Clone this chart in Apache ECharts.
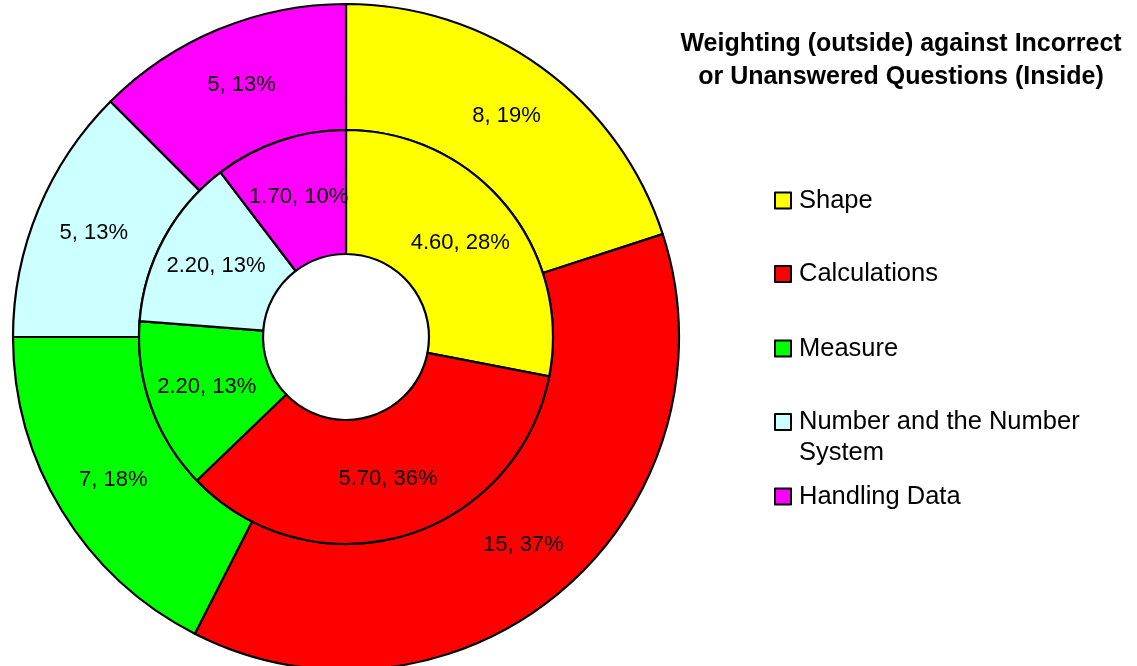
<!DOCTYPE html>
<html>
<head>
<meta charset="utf-8">
<script src="https://cdn.jsdelivr.net/npm/echarts@6/dist/echarts.min.js"></script>
<style>html,body{margin:0;padding:0;background:#fff}#chart{width:1137px;height:666px}</style>
</head>
<body>
<div id="chart"></div>
<script>
var categories = ['Shape', 'Calculations', 'Measure', 'Number and the Number System', 'Handling Data'];
var colors = ['#FFFF00', '#FF0000', '#00FF00', '#CCFFFF', '#FF00FF'];
var outerValues = [8, 15, 7, 5, 5];
var outerPercentLabels = [19, 37, 18, 13, 13];
var innerValues = [4.60, 5.70, 2.20, 2.20, 1.70];
var innerPercentLabels = [28, 36, 13, 13, 10];
var titleText = 'Weighting (outside) against Incorrect\nor Unanswered Questions (Inside)';

var FONT = '"Liberation Sans", Arial, sans-serif';

function buildData(values) {
  return categories.map(function (c, i) {
    return { name: c, value: values[i], itemStyle: { color: colors[i] } };
  });
}

var legendTops = [185, 258.5, 333, 375.5, 481];
var legends = categories.map(function (c, i) {
  return {
    data: [c],
    orient: 'vertical',
    left: 774,
    top: legendTops[i],
    padding: 0,
    icon: 'rect',
    itemWidth: 16,
    itemHeight: 16,
    selectedMode: false,
    itemStyle: { borderColor: '#000', borderWidth: 2 },
    formatter: function (name) {
      if (name === 'Number and the Number System') return '\nNumber and the Number\nSystem';
      return name;
    },
    textStyle: { fontFamily: FONT, fontSize: 25.5, color: '#000', lineHeight: 31, padding: [0, 0, 0, 3] }
  };
});

var common = {
  type: 'pie',
  center: [346, 337],
  startAngle: 90,
  clockwise: true,
  avoidLabelOverlap: false,
  labelLine: { show: false },
  itemStyle: { borderColor: '#000', borderWidth: 2.2 },
  emphasis: { disabled: true },
  labelLayout: { hideOverlap: false }
};

var option = {
  animation: false,
  backgroundColor: '#fff',
  title: {
    text: titleText,
    left: 901,
    top: 28,
    padding: 0,
    textAlign: 'center',
    textStyle: { fontFamily: FONT, fontSize: 25, fontWeight: 'bold', color: '#000', lineHeight: 33 }
  },
  legend: legends,
  series: [
    Object.assign({}, common, {
      name: 'Weighting',
      radius: [207, 333],
      data: buildData(outerValues),
      label: {
        show: true, position: 'inside', color: '#000', fontFamily: FONT, fontSize: 22,
        formatter: function (p) { return p.value + ', ' + outerPercentLabels[p.dataIndex] + '%'; }
      }
    }),
    Object.assign({}, common, {
      name: 'Incorrect',
      radius: [83, 207],
      data: buildData(innerValues),
      label: {
        show: true, position: 'inside', color: '#000', fontFamily: FONT, fontSize: 22,
        formatter: function (p) { return p.value.toFixed(2) + ', ' + innerPercentLabels[p.dataIndex] + '%'; }
      }
    })
  ]
};

var chart = echarts.init(document.getElementById('chart'));
chart.setOption(option);
</script>
</body>
</html>
